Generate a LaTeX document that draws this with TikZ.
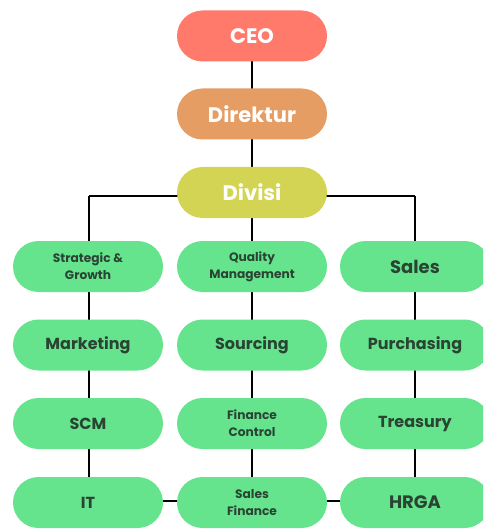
\documentclass[tikz,border=0pt]{standalone}
\usepackage{fontspec}
\setmainfont{Poppins}[BoldFont={Poppins Bold}]
\definecolor{ceoc}{HTML}{FF7A6A}
\definecolor{dirc}{HTML}{E69D63}
\definecolor{divc}{HTML}{D4D454}
\definecolor{grn}{HTML}{66E38D}
\definecolor{txtg}{HTML}{2A4433}
\begin{document}
\begin{tikzpicture}[x=1pt,y=-1pt,
  box/.style={rounded corners=25.5pt,minimum width=150pt,minimum height=51pt,inner sep=0pt,align=center,font=\bfseries},
  topbox/.style={box,text=white,font=\bfseries\fontsize{21}{23}\selectfont},
  gbox/.style={box,fill=grn,text=txtg,font=\bfseries\fontsize{16}{19}\selectfont},
  gsmall/.style={gbox,font=\bfseries\fontsize{12.2}{17}\selectfont},
  link/.style={line width=2.8pt,black}]
\useasboundingbox (0,0) rectangle (483,529);
\clip (0,0) rectangle (483,529);
\coordinate (hl) at (89,196);
\coordinate (hr) at (415,196);
% connectors
\draw[link] (hl) -- (hr);
\draw[link] (89,196) -- (89,500);
\draw[link] (252,36) -- (252,500);
\draw[link] (415,196) -- (415,500);
\draw[link] (89,501) -- (415,501);
% top nodes
\node[topbox,fill=ceoc] (ceo) at (252,36) {CEO};
\node[topbox,fill=dirc] (dir) at (252,114) {Direktur};
\node[topbox,fill=divc] (div) at (252,192.5) {Divisi};
% rows
\node[gsmall] (sg) at (88,266.5) {Strategic \&\\Growth};
\node[gsmall] (qm) at (252,266.5) {Quality\\Management};
\node[gbox,font=\bfseries\fontsize{18}{20}\selectfont] (sa) at (415,266.5) {Sales};
\node[gbox] (mk) at (88,345) {Marketing};
\node[gbox] (so) at (252,345) {Sourcing};
\node[gbox] (pu) at (415,345) {Purchasing};
\node[gbox] (scm) at (88,423.5) {SCM};
\node[gsmall] (fc) at (252,423.5) {Finance\\Control};
\node[gbox] (tr) at (415,423.5) {Treasury};
\node[gbox] (it) at (88,502.5) {IT};
\node[gsmall] (sf) at (252,502.5) {Sales\\Finance};
\node[gbox,font=\bfseries\fontsize{18}{20}\selectfont] (hr) at (415,502.5) {HRGA};
\end{tikzpicture}
\end{document}
